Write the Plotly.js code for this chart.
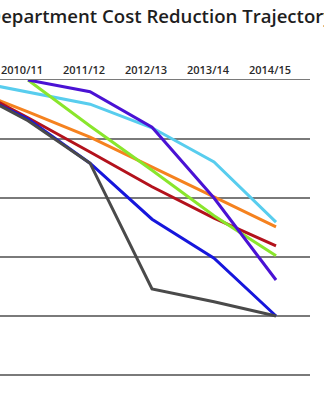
<!DOCTYPE html>
<html>
<head>
<meta charset="utf-8">
<script src="https://cdn.plot.ly/plotly-3.0.1.min.js"></script>
<style>
html, body { margin: 0; padding: 0; overflow: hidden; background: #fff; }
#chart { width: 324px; height: 400px; }
</style>
</head>
<body>
<div id="chart"></div>
<script>
var years = ['2009/10', '2010/11', '2011/12', '2012/13', '2013/14', '2014/15'];

var deptA = [100, 98.0, 95.9, 91.9, 86.1, 75.9];   // light blue
var deptB = [98.7, 94.6, 90.3, 85.3, 80.2, 75.1];  // orange
var deptC = [99.2, 93.6, 87.8, 81.9, 76.6, 71.9];  // dark red
var deptD = [98.6, 93.4, 85.9, 76.4, 69.8, 60.0];  // blue
var deptE = [98.7, 93.1, 85.9, 64.6, 62.4, 60.0];  // dark grey
var deptF = [null, 100, 92.2, 84.7, 77.0, 70.2];   // lime green
var deptG = [null, 100, 98.0, 92.0, 80.0, 66.1];   // violet

var names = ['Department A', 'Department B', 'Department C', 'Department D', 'Department E', 'Department F', 'Department G'];
var series = [deptA, deptB, deptC, deptD, deptE, deptF, deptG];
var colors = ['#58cdee', '#f5821f', '#b3121c', '#1616dc', '#4a4a4a', '#8ae62c', '#4a12d4'];

var traces = series.map(function (s, i) {
  return {
    type: 'scatter',
    mode: 'lines',
    x: years,
    y: s,
    name: names[i],
    line: { color: colors[i], width: 3 },
    connectgaps: false,
    hoverinfo: 'x+y+name'
  };
});

var layout = {
  width: 324,
  height: 400,
  margin: { l: 0, r: 14, t: 80, b: 0 },
  paper_bgcolor: '#ffffff',
  plot_bgcolor: '#ffffff',
  showlegend: false,
  title: {
    text: 'Department Cost Reduction Trajectory',
    font: { family: 'Open Sans', size: 18.6, color: '#1e1e1e', weight: 600 },
    x: 0.495,
    xanchor: 'center',
    xref: 'container',
    yref: 'container',
    y: 0.958,
    yanchor: 'middle'
  },
  xaxis: {
    type: 'category',
    side: 'top',
    range: [0.548, 5.548],
    showgrid: false,
    showline: true,
    linecolor: '#7a7a7a',
    linewidth: 1.3,
    ticks: '',
    ticklabelshift: -6,
    tickfont: { family: 'Open Sans', size: 11, color: '#2a2a2a', weight: 600 },
    fixedrange: true
  },
  yaxis: {
    range: [45.76, 100],
    dtick: 10,
    tick0: 0,
    showticklabels: false,
    showgrid: true,
    gridcolor: '#7a7a7a',
    gridwidth: 1.3,
    zeroline: false,
    showline: false,
    ticks: '',
    fixedrange: true
  }
};

Plotly.newPlot('chart', traces, layout, { displayModeBar: false, staticPlot: true });
</script>
</body>
</html>
